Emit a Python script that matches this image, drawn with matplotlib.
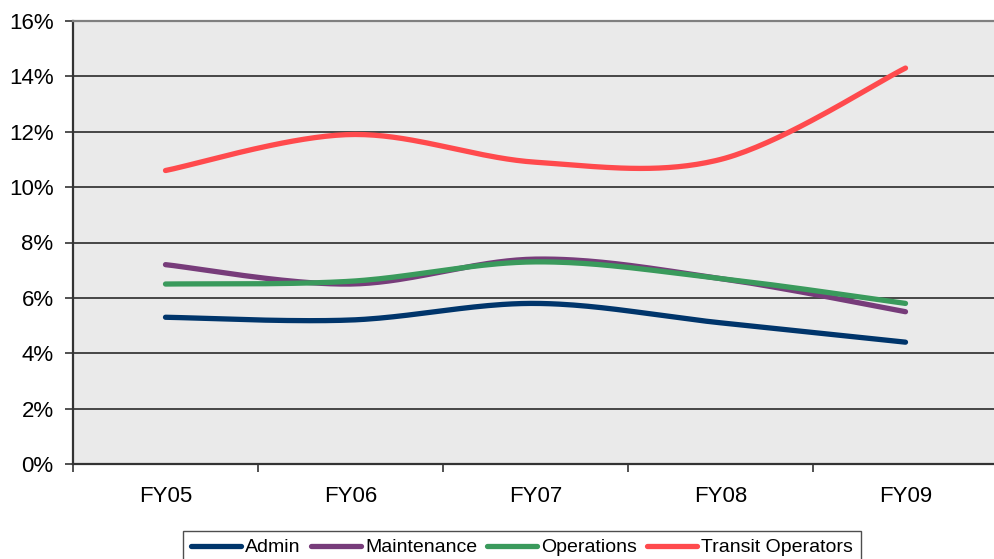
import matplotlib

matplotlib.use("Agg")

import matplotlib.pyplot as plt
import numpy as np
from matplotlib.ticker import FixedLocator, PercentFormatter

years = ["FY05", "FY06", "FY07", "FY08", "FY09"]
admin = [5.3, 5.2, 5.8, 5.1, 4.4]
maintenance = [7.2, 6.5, 7.4, 6.7, 5.5]
operations = [6.5, 6.6, 7.3, 6.7, 5.8]
transit = [10.6, 11.9, 10.9, 11.0, 14.3]

series = [
    ("Admin", admin, "#00356b"),
    ("Maintenance", maintenance, "#773c7a"),
    ("Operations", operations, "#3a9a5c"),
    ("Transit Operators", transit, "#ff4a4d"),
]


def smooth(x, y, n=40):
    # bezier through the points, control points like a spreadsheet "smoothed line"
    p = np.column_stack([x, y]).astype(float)
    ext = np.vstack([p[0], p, p[-1]])
    out = []
    t = np.linspace(0, 1, n)[:, None]
    for i in range(len(p) - 1):
        p0, p3 = ext[i + 1], ext[i + 2]
        c1 = p0 + (ext[i + 2] - ext[i]) / 6.0
        c2 = p3 - (ext[i + 3] - ext[i + 1]) / 6.0
        seg = ((1 - t) ** 3) * p0 + 3 * ((1 - t) ** 2) * t * c1 + 3 * (1 - t) * t ** 2 * c2 + t ** 3 * p3
        out.append(seg if i == 0 else seg[1:])
    out = np.vstack(out)
    return out[:, 0], out[:, 1]


plt.rcParams["font.family"] = ["Liberation Sans", "DejaVu Sans"]

fig = plt.figure(figsize=(9.94, 5.59), dpi=100)
ax = fig.add_axes([73 / 994, 95 / 559, 925 / 994, 443 / 559])
ax.set_facecolor("#eaeaea")

xs = np.arange(len(years))
for name, vals, color in series:
    sx, sy = smooth(xs, vals)
    ax.plot(sx, sy, color=color, lw=3.8, solid_capstyle="round", label=name, zorder=3)

ax.set_xlim(-0.5, len(years) - 0.5)
ax.set_ylim(0, 16)
ax.set_yticks(np.arange(0, 17, 2))
ax.yaxis.set_major_formatter(PercentFormatter(decimals=0))
ax.grid(axis="y", color="#2a2a2a", lw=1.2, zorder=1)
ax.set_axisbelow(True)

ax.set_xticks(xs)
ax.set_xticklabels(years)
ax.xaxis.set_minor_locator(FixedLocator(np.arange(-0.5, len(years), 1.0)))
ax.tick_params(axis="x", which="major", length=0, pad=16, labelsize=16)
ax.tick_params(axis="x", which="minor", length=6, width=1.2, color="#333333", direction="out")
ax.tick_params(axis="y", length=6, width=1.2, color="#333333", pad=8, labelsize=16)

ax.spines["top"].set_color("#808080")
ax.spines["top"].set_linewidth(1.6)
ax.spines["left"].set_color("#333333")
ax.spines["left"].set_linewidth(1.6)
ax.spines["bottom"].set_color("#333333")
ax.spines["bottom"].set_linewidth(1.6)
ax.spines["right"].set_visible(False)

leg = fig.legend(
    loc="upper center",
    bbox_to_anchor=(522 / 994, 1 - 531 / 559),
    ncol=4,
    frameon=True,
    fancybox=False,
    edgecolor="#222222",
    handlelength=2.6,
    handletextpad=0.2,
    columnspacing=0.5,
    borderpad=0.4,
    borderaxespad=0,
    prop={"size": 14},
)
leg.get_frame().set_linewidth(1.0)

fig.savefig("out.png", dpi=100)
